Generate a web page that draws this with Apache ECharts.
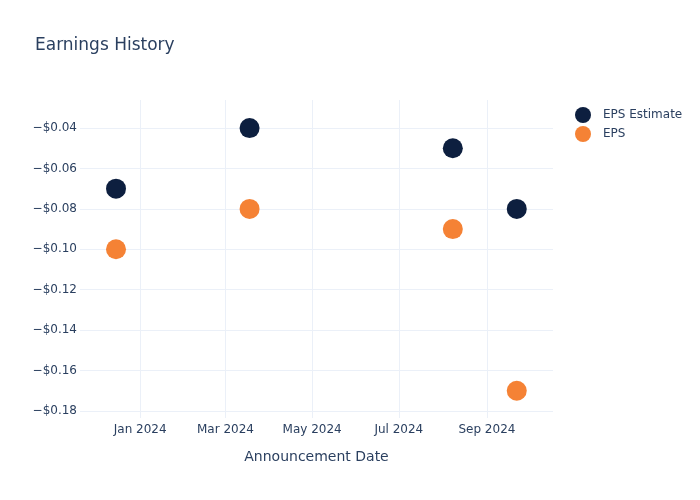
<!DOCTYPE html>
<html>
<head>
<meta charset="utf-8">
<script src="https://cdn.jsdelivr.net/npm/echarts@6/dist/echarts.min.js"></script>
<style>html,body{margin:0;padding:0;background:#fff}#c{width:700px;height:500px}</style>
</head>
<body>
<div id="c"></div>
<script>
const dates = ['2023-12-15', '2024-03-18', '2024-08-08', '2024-09-22'];
const epsEstimate = [-0.07, -0.04, -0.05, -0.08];
const eps = [-0.10, -0.08, -0.09, -0.17];
const xTickDates = ['2024-01-01', '2024-03-01', '2024-05-01', '2024-07-01', '2024-09-01'];
const yTicks = [-0.18, -0.16, -0.14, -0.12, -0.10, -0.08, -0.06, -0.04];
const monthNames = ['Jan','Feb','Mar','Apr','May','Jun','Jul','Aug','Sep','Oct','Nov','Dec'];

const ts = d => Date.parse(d + 'T00:00:00Z');
const xTicks = xTickDates.map(ts);
const font = '"DejaVu Sans", sans-serif';
const textColor = '#2a3f5f';
const gridColor = '#ebf0f8';

const chart = echarts.init(document.getElementById('c'), null, {renderer: 'canvas'});
chart.setOption({
  animation: false,
  backgroundColor: '#fff',
  title: {
    text: 'Earnings History', left: 30, top: 32,
    textStyle: {fontFamily: font, fontSize: 17, fontWeight: 'normal', color: textColor}
  },
  legend: {
    orient: 'vertical', left: 570, top: 102, itemGap: 3,
    itemWidth: 16, itemHeight: 16, icon: 'circle',
    textStyle: {fontFamily: font, fontSize: 12, color: textColor, padding: [0, 0, 0, 7]},
    data: ['EPS Estimate', 'EPS']
  },
  grid: {left: 80, right: 147, top: 100, bottom: 82, containLabel: false},
  xAxis: {
    type: 'value',
    min: ts('2023-11-19') + 16 * 3600e3,
    max: ts('2024-10-17') + 12 * 3600e3,
    name: 'Announcement Date', nameLocation: 'middle', nameGap: 32,
    nameTextStyle: {fontFamily: font, fontSize: 14, color: textColor},
    axisLine: {show: false},
    axisTick: {show: false, customValues: xTicks},
    axisLabel: {
      customValues: xTicks, color: textColor, fontFamily: font, fontSize: 12, margin: 6,
      formatter: v => { const d = new Date(v); return monthNames[d.getUTCMonth()] + ' ' + d.getUTCFullYear(); }
    },
    splitLine: {show: true, lineStyle: {color: gridColor, width: 1}}
  },
  yAxis: {
    type: 'value',
    min: -0.1835, max: -0.0261,
    axisLine: {show: false},
    axisTick: {show: false, customValues: yTicks},
    axisLabel: {
      customValues: yTicks, color: textColor, fontFamily: font, fontSize: 12, margin: 3,
      formatter: v => (v < 0 ? '\u2212' : '') + '$' + Math.abs(v).toFixed(2)
    },
    splitLine: {show: true, lineStyle: {color: gridColor, width: 1}}
  },
  series: [
    {
      name: 'EPS Estimate', type: 'scatter', symbolSize: 20,
      itemStyle: {color: '#0d1f3f', opacity: 1},
      data: dates.map((d, i) => [ts(d), epsEstimate[i]])
    },
    {
      name: 'EPS', type: 'scatter', symbolSize: 20,
      itemStyle: {color: '#f58235', opacity: 1},
      data: dates.map((d, i) => [ts(d), eps[i]])
    }
  ]
});
</script>
</body>
</html>
